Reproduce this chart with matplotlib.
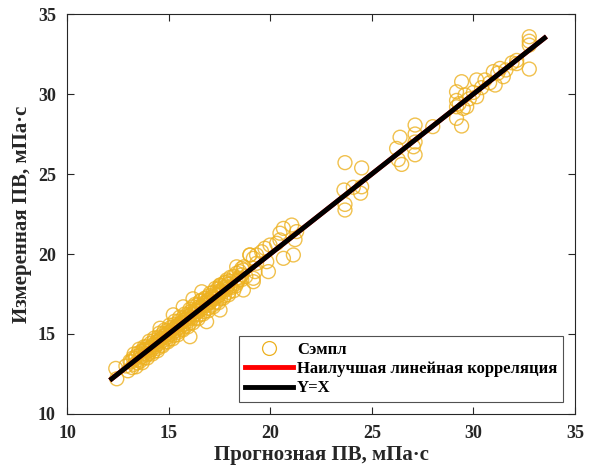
import matplotlib
matplotlib.use("Agg")
import matplotlib.pyplot as plt
from matplotlib.lines import Line2D

plt.rcParams['font.family'] = ['Liberation Serif', 'DejaVu Serif']
plt.rcParams['font.weight'] = 'bold'

# Predicted (x) and measured (y) plastic viscosity, mPa*s
pred = [
    12.45, 12.40, 12.90, 13.00, 13.10, 13.20, 13.25, 13.30, 13.40, 13.45,
    13.50, 13.55, 13.60, 13.65, 13.70, 13.75, 13.80, 13.85, 13.90, 13.95,
    14.00, 14.05, 14.10, 14.15, 14.20, 14.25, 14.30, 14.35, 14.40, 14.45,
    14.50, 14.55, 14.60, 14.65, 14.70, 14.75, 14.80, 14.85, 14.90, 14.95,
    15.00, 15.05, 15.10, 15.15, 15.20, 15.25, 15.30, 15.35, 15.40, 15.45,
    15.50, 15.55, 15.60, 15.65, 15.70, 15.75, 15.80, 15.85, 15.90, 15.95,
    16.00, 16.05, 16.10, 16.15, 16.20, 16.25, 16.30, 16.35, 16.40, 16.45,
    16.50, 16.55, 16.60, 16.65, 16.70, 16.75, 16.80, 16.85, 16.90, 16.95,
    17.00, 17.05, 17.10, 17.15, 17.20, 17.25, 17.30, 17.35, 17.40, 17.45,
    17.50, 17.55, 17.60, 17.65, 17.70, 17.75, 17.80, 17.85, 17.90, 17.95,
    18.00, 18.10, 18.20, 18.30, 18.35, 18.40, 18.50, 18.60, 18.70, 18.80,
    13.15, 13.35, 13.62, 13.88, 14.12, 14.38, 14.62, 14.88, 15.12, 15.38,
    15.62, 15.88, 16.12, 16.38, 16.62, 16.88, 17.12, 17.38, 17.62, 17.88,
    14.02, 14.52, 15.02, 15.52, 16.02, 16.52, 17.02, 17.52, 18.02, 18.45,
    18.35, 18.60, 18.68, 18.60, 19.00, 19.17, 19.17, 19.25, 19.33, 19.58,
    19.74, 19.83, 19.91, 19.99, 20.32, 20.48, 20.48, 20.65, 20.65, 21.06,
    21.14, 21.22, 21.30, 19.00, 19.33, 18.35, 17.86, 17.53, 16.63, 16.20,
    15.72, 15.23, 14.58, 19.17, 18.68, 17.53, 16.87, 16.05,
    13.30, 13.55, 13.80, 14.05, 14.30, 14.55, 14.80, 15.05, 15.30, 15.55,
    15.80, 16.05, 16.30, 16.55, 16.80, 17.05, 17.30, 17.55, 17.80, 18.05,
    13.40, 13.70, 13.95, 14.20, 14.45, 14.70, 14.95, 15.20, 15.45, 15.70,
    15.95, 16.20, 16.45, 16.70, 16.95, 17.20, 17.45, 17.70, 17.95, 18.20,
    13.85, 14.40, 14.90, 15.45, 15.95, 16.45, 16.95, 17.45, 17.95, 18.45,
    23.68, 24.50, 23.63, 24.09, 24.50, 24.45, 23.68, 23.68,
    26.39, 26.22, 26.30, 26.47, 27.13, 27.13, 27.13, 27.13, 27.05, 28.00,
    29.42, 29.17, 29.17, 29.17, 29.17, 29.42, 29.67, 29.59, 30.16, 30.16,
    30.57, 30.98, 31.07, 31.31, 31.47, 32.13, 32.13, 32.75, 32.75, 32.75,
    32.75, 29.30, 29.80, 30.40, 30.80, 31.20, 31.60, 31.90, 30.00, 29.50,
]
meas = [
    12.20, 12.85, 13.00, 12.70, 13.30, 12.90, 13.50, 13.10, 13.60, 13.20,
    13.80, 13.40, 13.30, 13.90, 13.60, 14.00, 13.50, 13.80, 14.20, 13.70,
    14.10, 13.80, 14.40, 14.00, 14.30, 13.90, 14.60, 14.20, 14.50, 14.10,
    14.80, 14.40, 14.70, 14.30, 15.00, 14.60, 14.90, 14.50, 15.20, 14.80,
    15.10, 14.70, 15.40, 15.00, 15.30, 14.90, 15.60, 15.20, 15.50, 15.10,
    15.80, 15.40, 15.70, 15.30, 16.00, 15.60, 15.90, 15.50, 16.20, 15.80,
    16.10, 15.70, 16.40, 16.00, 16.70, 16.20, 16.50, 16.00, 16.80, 16.40,
    16.70, 16.20, 17.10, 16.60, 16.90, 16.40, 17.20, 16.80, 17.10, 16.60,
    17.40, 17.00, 17.30, 16.80, 17.60, 17.20, 17.50, 17.00, 17.80, 17.40,
    17.70, 17.20, 18.00, 17.60, 17.90, 17.40, 18.20, 17.80, 18.10, 17.60,
    18.30, 17.90, 18.60, 18.00, 18.80, 18.30, 18.90, 18.40, 19.20, 18.60,
    13.25, 13.45, 13.70, 14.00, 14.15, 14.45, 14.70, 14.95, 15.20, 15.45,
    15.70, 15.95, 16.25, 16.45, 16.70, 16.95, 17.20, 17.45, 17.70, 17.95,
    13.95, 14.55, 14.95, 15.60, 15.95, 16.60, 16.95, 17.60, 17.95, 18.50,
    18.17, 18.70, 19.00, 19.10, 19.94, 19.73, 18.48, 18.90, 19.94, 20.14,
    20.36, 19.52, 18.90, 20.56, 20.67, 21.30, 20.88, 21.60, 19.73, 21.81,
    19.94, 20.90, 21.40, 19.94, 19.42, 19.20, 18.38, 18.06, 17.64, 17.20,
    16.70, 16.20, 15.36, 18.27, 17.75, 16.50, 15.77, 14.83,
    13.75, 14.05, 14.20, 14.55, 14.75, 15.05, 15.25, 15.55, 15.80, 16.05,
    16.25, 16.55, 16.85, 17.05, 17.25, 17.55, 17.85, 18.05, 18.25, 18.55,
    12.95, 13.20, 13.50, 13.75, 13.95, 14.25, 14.50, 14.70, 14.95, 15.25,
    15.45, 15.70, 15.95, 16.25, 16.45, 16.70, 16.95, 17.25, 17.45, 17.70,
    14.05, 14.35, 15.05, 15.40, 16.10, 16.40, 17.10, 17.40, 18.10, 18.40,
    25.71, 25.38, 24.00, 24.17, 24.20, 23.80, 23.10, 22.75,
    27.30, 26.60, 25.90, 25.60, 28.06, 27.50, 27.00, 26.20, 26.70, 27.96,
    30.77, 30.14, 29.60, 29.20, 28.48, 28.00, 29.20, 29.94, 30.88, 29.83,
    30.88, 31.40, 30.56, 31.60, 31.08, 32.10, 31.90, 33.58, 33.30, 33.06,
    31.56, 29.40, 29.70, 30.40, 30.70, 31.30, 31.50, 31.95, 30.10, 29.10,
]

line_x = [12.2, 33.5]
line_y = [12.2, 33.5]

fig = plt.figure(figsize=(5.95, 4.72), dpi=100)
ax = fig.add_axes([0.1126, 0.1229, 0.8538, 0.8474])

ax.scatter(pred, meas, s=100, facecolors='none', edgecolors='#EDB120',
           linewidths=1.0, alpha=0.8, zorder=2)
ax.plot(line_x, line_y, color='red', lw=3.5, zorder=3)
ax.plot(line_x, line_y, color='black', lw=3.5, zorder=4)

ax.set_xlim(10, 35)
ax.set_ylim(10, 35)
ax.set_xticks([10, 15, 20, 25, 30, 35])
ax.set_yticks([10, 15, 20, 25, 30, 35])
ax.tick_params(direction='in', top=True, right=True, labelsize=13,
               length=5, width=0.8, colors='#262626', pad=8)
for lab in ax.get_xticklabels() + ax.get_yticklabels():
    lab.set_fontweight('bold')
    lab.set_color('#262626')
for sp in ax.spines.values():
    sp.set_color('#262626')
    sp.set_linewidth(0.8)

ax.set_xlabel('Прогнозная ПВ, мПа·с', fontsize=15, fontweight='bold',
              color='#262626', labelpad=2)
ax.set_ylabel('Измеренная ПВ, мПа·с', fontsize=15, fontweight='bold',
              color='#262626', labelpad=4)

handles = [
    Line2D([], [], marker='o', ls='none', markersize=10, markerfacecolor='none',
           markeredgecolor='#EDB120', markeredgewidth=0.9),
    Line2D([], [], color='red', lw=3.5),
    Line2D([], [], color='black', lw=3.5),
]
labels = ['Сэмпл', 'Наилучшая линейная корреляция', 'Y=X']
leg = ax.legend(handles, labels, loc='lower right',
                prop={'weight': 'bold', 'size': 12}, frameon=True,
                fancybox=False, edgecolor='#262626', handlelength=2.9,
                borderaxespad=0.7, labelspacing=0.2, handletextpad=0.25,
                borderpad=0.35)
leg.get_frame().set_linewidth(0.8)

fig.savefig('out.png', dpi=100)
